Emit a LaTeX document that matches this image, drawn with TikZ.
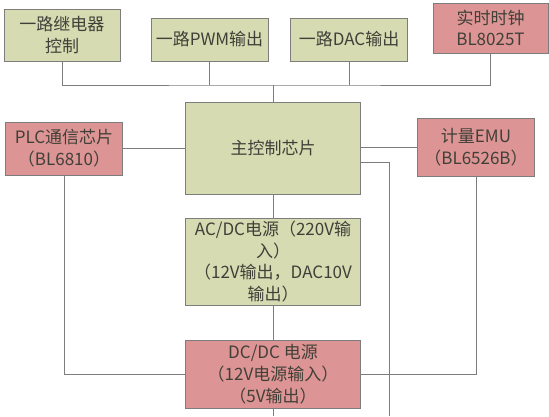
\documentclass[tikz,border=0pt]{standalone}
\usepackage{fontspec}
\usepackage{tikz}
\usetikzlibrary{positioning,calc}
\newfontfamily\cjk{Noto Sans CJK SC}
\definecolor{BoxGreen}{RGB}{214,219,178}
\definecolor{BoxRed}{RGB}{220,148,148}
\definecolor{EdgeGray}{RGB}{125,125,125}
\definecolor{TextGray}{RGB}{64,64,56}
\tikzset{blk/.style={draw=EdgeGray,line width=0.9pt,inner sep=2pt,align=center,text=TextGray,font=\cjk\fontsize{17}{21.7}\selectfont},
grn/.style={blk,fill=BoxGreen}, rd/.style={blk,fill=BoxRed},
wire/.style={draw=EdgeGray,line width=0.9pt}}

\begin{document}
\begin{tikzpicture}[x=1pt,y=-1pt]
\useasboundingbox[fill=white] (0,0) rectangle (549,416);
\node[grn,minimum width=116pt,minimum height=52pt] (relay) at (62,35) {一路继电器\\控制};
\node[grn,minimum width=117pt,minimum height=43pt] (pwm) at (209.5,39.5) {一路PWM输出};
\node[grn,minimum width=116.5pt,minimum height=43pt] (dac) at (349,39.5) {一路DAC输出};
\node[rd,minimum width=115pt,minimum height=50pt] (rtc) at (490.5,28) {实时时钟\\BL8025T};
\node[grn,minimum width=174.5pt,minimum height=92pt] (main) at (273,148) {主控制芯片};
\node[rd,minimum width=116.5pt,minimum height=53pt] (plc) at (64,148.5) {PLC通信芯片\\（BL6810）};
\node[rd,minimum width=116.5pt,minimum height=58pt] (emu) at (476,147) {计量EMU\\（BL6526B）};
\node[grn,minimum width=175pt,minimum height=87pt] (acdc) at (273,261.5) {AC/DC电源（220V输\\入）\\（12V输出，DAC10V\\输出）};
\node[rd,minimum width=175pt,minimum height=68pt] (dcdc) at (273,374) {DC/DC 电源\\（12V电源输入）\\（5V输出）};
\coordinate (bus) at (273,85);
\coordinate (outm) at (273,416);
\coordinate (outr) at (389,416);
% top bus
\draw[wire] (relay.south) |- (bus) -| (rtc.south);
\draw[wire] (pwm.south) -- (pwm.south |- bus);
\draw[wire] (dac.south) -- (dac.south |- bus);
\draw[wire] (bus) -- (main.north);
% side chips
\draw[wire] (plc.east) -- (plc.east -| main.west);
\draw[wire] (emu.west) -- (emu.west -| main.east);
\draw[wire] ([yshift=-14pt]main.east) -| (outr);
% power chain
\draw[wire] (main.south) -- (acdc.north);
\draw[wire] (acdc.south) -- (dcdc.north);
\draw[wire] (dcdc.south) -- (outm);
\draw[wire] (plc.south) |- (dcdc.west);
\draw[wire] (emu.south) |- (dcdc.east);
\end{tikzpicture}
\end{document}
